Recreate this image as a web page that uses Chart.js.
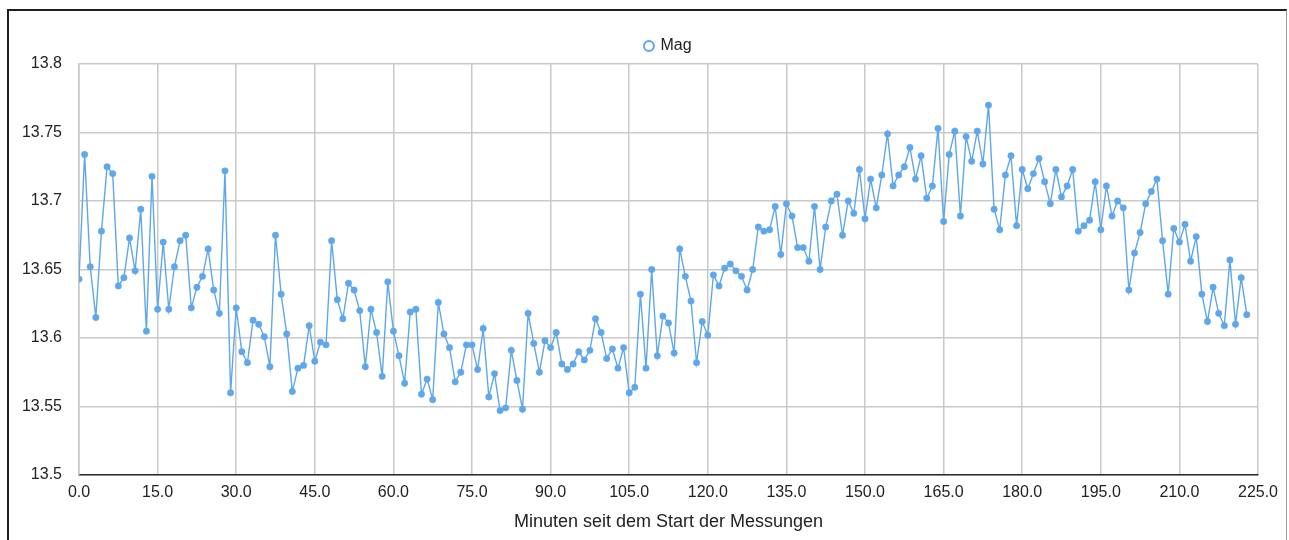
<!DOCTYPE html>
<html>
<head>
<meta charset="utf-8">
<title>Mag</title>
<script src="https://cdn.jsdelivr.net/npm/chart.js@4/dist/chart.umd.min.js"></script>
<style>
  html, body { margin: 0; padding: 0; background: #fff; }
  body { width: 1289px; height: 540px; position: relative; overflow: hidden; }
  #frame {
    position: absolute; left: 7px; top: 9px; width: 1280px; height: 600px;
    border-top: 2px solid #1e1e1e; border-left: 2px solid #1e1e1e; border-right: 1px solid #9a9a9a;
    box-sizing: border-box;
  }
  #chart { position: absolute; left: 0; top: 0; }
</style>
</head>
<body>
<div id="frame"></div>
<canvas id="chart" width="1289" height="540"></canvas>
<script>
// Minutes since the start of the measurements
const minutes = [
  0, 1.07, 2.14, 3.21, 4.29, 5.36, 6.43, 7.5, 8.57, 9.64, 10.71, 11.79, 12.86, 13.93,
  15, 16.07, 17.14, 18.21, 19.29, 20.36, 21.43, 22.5, 23.57, 24.64, 25.71, 26.79, 27.86, 28.93,
  30, 31.07, 32.14, 33.21, 34.29, 35.36, 36.43, 37.5, 38.57, 39.64, 40.71, 41.79, 42.86, 43.93,
  45, 46.07, 47.14, 48.21, 49.29, 50.36, 51.43, 52.5, 53.57, 54.64, 55.71, 56.79, 57.86, 58.93,
  60, 61.07, 62.14, 63.21, 64.29, 65.36, 66.43, 67.5, 68.57, 69.64, 70.71, 71.79, 72.86, 73.93,
  75, 76.07, 77.14, 78.21, 79.29, 80.36, 81.43, 82.5, 83.57, 84.64, 85.71, 86.79, 87.86, 88.93,
  90, 91.07, 92.14, 93.21, 94.29, 95.36, 96.43, 97.5, 98.57, 99.64, 100.71, 101.79, 102.86, 103.93,
  105, 106.07, 107.14, 108.21, 109.29, 110.36, 111.43, 112.5, 113.57, 114.64, 115.71, 116.79, 117.86, 118.93,
  120, 121.07, 122.14, 123.21, 124.29, 125.36, 126.43, 127.5, 128.57, 129.64, 130.71, 131.79, 132.86, 133.93,
  135, 136.07, 137.14, 138.21, 139.29, 140.36, 141.43, 142.5, 143.57, 144.64, 145.71, 146.79, 147.86, 148.93,
  150, 151.07, 152.14, 153.21, 154.29, 155.36, 156.43, 157.5, 158.57, 159.64, 160.71, 161.79, 162.86, 163.93,
  165, 166.07, 167.14, 168.21, 169.29, 170.36, 171.43, 172.5, 173.57, 174.64, 175.71, 176.79, 177.86, 178.93,
  180, 181.07, 182.14, 183.21, 184.29, 185.36, 186.43, 187.5, 188.57, 189.64, 190.71, 191.79, 192.86, 193.93,
  195, 196.07, 197.14, 198.21, 199.29, 200.36, 201.43, 202.5, 203.57, 204.64, 205.71, 206.79, 207.86, 208.93,
  210, 211.07, 212.14, 213.21, 214.29, 215.36, 216.43, 217.5, 218.57, 219.64, 220.71, 221.79, 222.86
];

// Measured magnitude at each time
const mag = [
  13.643, 13.734, 13.652, 13.615, 13.678, 13.725, 13.720, 13.638, 13.644, 13.673, 13.649, 13.694, 13.605, 13.718,
  13.621, 13.670, 13.621, 13.652, 13.671, 13.675, 13.622, 13.637, 13.645, 13.665, 13.635, 13.618, 13.722, 13.560,
  13.622, 13.590, 13.582, 13.613, 13.610, 13.601, 13.579, 13.675, 13.632, 13.603, 13.561, 13.578, 13.580, 13.609,
  13.583, 13.597, 13.595, 13.671, 13.628, 13.614, 13.640, 13.635, 13.620, 13.579, 13.621, 13.604, 13.572, 13.641,
  13.605, 13.587, 13.567, 13.619, 13.621, 13.559, 13.570, 13.555, 13.626, 13.603, 13.593, 13.568, 13.575, 13.595,
  13.595, 13.577, 13.607, 13.557, 13.574, 13.547, 13.549, 13.591, 13.569, 13.548, 13.618, 13.596, 13.575, 13.598,
  13.593, 13.604, 13.581, 13.577, 13.581, 13.590, 13.584, 13.591, 13.614, 13.604, 13.585, 13.592, 13.578, 13.593,
  13.560, 13.564, 13.632, 13.578, 13.650, 13.587, 13.616, 13.611, 13.589, 13.665, 13.645, 13.627, 13.582, 13.612,
  13.602, 13.646, 13.638, 13.651, 13.654, 13.649, 13.645, 13.635, 13.650, 13.681, 13.678, 13.679, 13.696, 13.661,
  13.698, 13.689, 13.666, 13.666, 13.656, 13.696, 13.650, 13.681, 13.700, 13.705, 13.675, 13.700, 13.691, 13.723,
  13.687, 13.716, 13.695, 13.719, 13.749, 13.711, 13.719, 13.725, 13.739, 13.716, 13.733, 13.702, 13.711, 13.753,
  13.685, 13.734, 13.751, 13.689, 13.747, 13.729, 13.751, 13.727, 13.770, 13.694, 13.679, 13.719, 13.733, 13.682,
  13.723, 13.709, 13.720, 13.731, 13.714, 13.698, 13.723, 13.703, 13.711, 13.723, 13.678, 13.682, 13.686, 13.714,
  13.679, 13.711, 13.689, 13.700, 13.695, 13.635, 13.662, 13.677, 13.698, 13.707, 13.716, 13.671, 13.632, 13.680,
  13.670, 13.683, 13.656, 13.674, 13.632, 13.612, 13.637, 13.618, 13.609, 13.657, 13.610, 13.644, 13.617
];

const seriesName = 'Mag';
const xTitle = 'Minuten seit dem Start der Messungen';
const xTicks = { min: 0, max: 225, step: 15 };
const yTicks = { min: 13.5, max: 13.8, step: 0.05 };

const blue = '#5ea7ea';
const gridColor = '#c9c9c9';
const textColor = '#222222';
const fontFamily = '"Liberation Sans", Arial, Helvetica, sans-serif';

const points = minutes.map((t, i) => ({ x: t, y: mag[i] }));

// Center the legend over the plot area instead of the whole canvas
const legendOverPlot = {
  id: 'legendOverPlot',
  afterLayout(chart) {
    const lg = chart.legend;
    if (lg) {
      lg.left = chart.chartArea.left;
      lg.right = chart.chartArea.right;
      lg.width = lg.right - lg.left;
    }
  }
};

new Chart(document.getElementById('chart'), {
  type: 'line',
  data: {
    datasets: [{
      label: seriesName,
      data: points,
      borderColor: blue,
      backgroundColor: '#ffffff',
      borderWidth: 1.4,
      pointRadius: 3.2,
      pointHoverRadius: 3.2,
      pointBackgroundColor: blue,
      pointBorderColor: blue,
      pointBorderWidth: 0.5,
      pointStyle: 'circle',
      tension: 0,
      fill: false
    }]
  },
  plugins: [legendOverPlot],
  options: {
    responsive: false,
    animation: false,
    devicePixelRatio: 1,
    layout: { padding: { left: 0, right: 31, top: 27, bottom: 0 } },
    plugins: {
      tooltip: { enabled: false },
      legend: {
        display: true,
        position: 'top',
        labels: {
          usePointStyle: true,
          pointStyle: 'circle',
          boxWidth: 7,
          boxHeight: 7,
          padding: 11,
          color: textColor,
          font: { family: fontFamily, size: 16 },
          generateLabels(chart) {
            const items = Chart.defaults.plugins.legend.labels.generateLabels(chart);
            items.forEach((it) => {
              it.fillStyle = '#ffffff';
              it.strokeStyle = blue;
              it.lineWidth = 2;
            });
            return items;
          }
        }
      }
    },
    scales: {
      x: {
        type: 'linear',
        min: xTicks.min,
        max: xTicks.max,
        afterFit: (s) => { s.height = 65; },
        ticks: {
          stepSize: xTicks.step,
          color: textColor,
          padding: 8,
          maxRotation: 0,
          font: { family: fontFamily, size: 16 },
          callback: (v) => Number(v).toFixed(1)
        },
        grid: { color: gridColor, lineWidth: 1.5, drawTicks: false },
        border: { color: '#2a2a2a', width: 1.6 },
        title: {
          display: true,
          text: xTitle,
          color: textColor,
          font: { family: fontFamily, size: 18 },
          padding: { top: 6, bottom: 7 }
        }
      },
      y: {
        type: 'linear',
        min: yTicks.min,
        max: yTicks.max,
        afterFit: (s) => { s.width = 79; },
        ticks: {
          stepSize: yTicks.step,
          color: textColor,
          padding: 17,
          font: { family: fontFamily, size: 16 },
          callback: (v) => String(Number(Number(v).toFixed(2)))
        },
        grid: { color: gridColor, lineWidth: 1.5, drawTicks: false },
        border: { color: gridColor, width: 1.5 }
      }
    }
  }
});
</script>
</body>
</html>
